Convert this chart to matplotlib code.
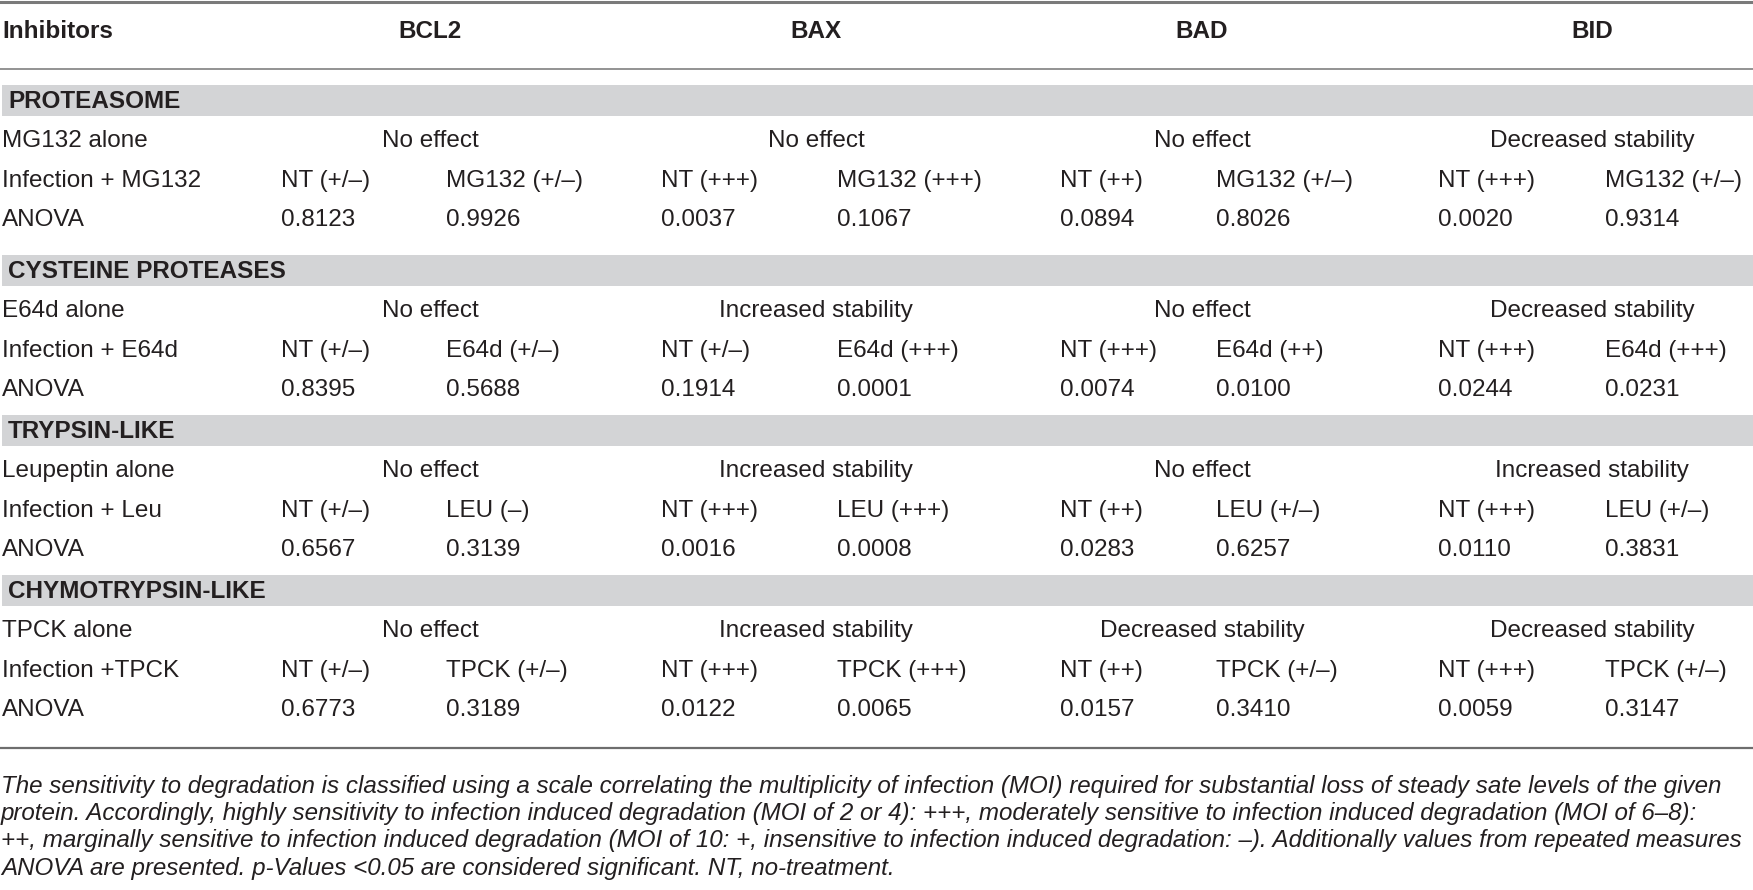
import matplotlib
matplotlib.use("Agg")
import matplotlib.pyplot as plt

plt.rcParams['font.family'] = ['Liberation Sans', 'DejaVu Sans']

# table content
proteins = ["BCL2", "BAX", "BAD", "BID"]
sections = ["PROTEASOME", "CYSTEINE PROTEASES", "TRYPSIN-LIKE", "CHYMOTRYPSIN-LIKE"]
alone_labels = ["MG132 alone", "E64d alone", "Leupeptin alone", "TPCK alone"]
infect_labels = ["Infection + MG132", "Infection + E64d", "Infection + Leu", "Infection +TPCK"]

effects = [
    ["No effect", "No effect", "No effect", "Decreased stability"],
    ["No effect", "Increased stability", "No effect", "Decreased stability"],
    ["No effect", "Increased stability", "No effect", "Increased stability"],
    ["No effect", "Increased stability", "Decreased stability", "Decreased stability"],
]
nt_calls = [
    ["NT (+/–)", "NT (+++)", "NT (++)", "NT (+++)"],
    ["NT (+/–)", "NT (+/–)", "NT (+++)", "NT (+++)"],
    ["NT (+/–)", "NT (+++)", "NT (++)", "NT (+++)"],
    ["NT (+/–)", "NT (+++)", "NT (++)", "NT (+++)"],
]
drug_calls = [
    ["MG132 (+/–)", "MG132 (+++)", "MG132 (+/–)", "MG132 (+/–)"],
    ["E64d (+/–)", "E64d (+++)", "E64d (++)", "E64d (+++)"],
    ["LEU (–)", "LEU (+++)", "LEU (+/–)", "LEU (+/–)"],
    ["TPCK (+/–)", "TPCK (+++)", "TPCK (+/–)", "TPCK (+/–)"],
]
anova_nt = [
    ["0.8123", "0.0037", "0.0894", "0.0020"],
    ["0.8395", "0.1914", "0.0074", "0.0244"],
    ["0.6567", "0.0016", "0.0283", "0.0110"],
    ["0.6773", "0.0122", "0.0157", "0.0059"],
]
anova_drug = [
    ["0.9926", "0.1067", "0.8026", "0.9314"],
    ["0.5688", "0.0001", "0.0100", "0.0231"],
    ["0.3139", "0.0008", "0.6257", "0.3831"],
    ["0.3189", "0.0065", "0.3410", "0.3147"],
]

footnote = [
    "The sensitivity to degradation is classified using a scale correlating the multiplicity of infection (MOI) required for substantial loss of steady sate levels of the given",
    "protein. Accordingly, highly sensitivity to infection induced degradation (MOI of 2 or 4): +++, moderately sensitive to infection induced degradation (MOI of 6–8):",
    "++, marginally sensitive to infection induced degradation (MOI of 10: +, insensitive to infection induced degradation: –). Additionally values from repeated measures",
    "ANOVA are presented. p-Values <0.05 are considered significant. NT, no-treatment.",
]

# layout (pixel space)
W, H = 1753, 890
col_center = [430, 816, 1202, 1592]
col_nt = [281, 661, 1060, 1438]
col_drug = [446, 837, 1216, 1605]
band_center = [100, 270, 430, 590]
row_step = 40
txt = "#231f20"
band_col = "#d3d4d6"
line_col = "#8a8a8a"
fs = 17.5

fig = plt.figure(figsize=(W / 100, H / 100), dpi=100)
ax = fig.add_axes([0, 0, 1, 1])
ax.set_xlim(0, W)
ax.set_ylim(H, 0)
ax.axis("off")

# rules
ax.axhline(1.5, color="#7a7a7a", lw=2.2)
ax.axhline(69, color=line_col, lw=1.3)
ax.axhline(748, color="#6e6e6e", lw=1.6)

# header
ax.text(2, 32, "Inhibitors", fontsize=fs, fontweight="bold", color=txt, va="center", ha="left")
for p, x in zip(proteins, col_center):
    ax.text(x, 32, p, fontsize=fs, fontweight="bold", color=txt, va="center", ha="center")

for i, sec in enumerate(sections):
    yc = band_center[i]
    ax.axhspan(yc - 15.5, yc + 15.5, xmin=0.001, xmax=1, color=band_col, lw=0)
    ax.text(8, yc + 1, sec, fontsize=fs, fontweight="bold", color=txt, va="center", ha="left")

    y1 = yc + 41
    y2 = y1 + row_step
    y3 = y2 + row_step - 1
    ax.text(2, y1, alone_labels[i], fontsize=fs, color=txt, va="center", ha="left")
    ax.text(2, y2, infect_labels[i], fontsize=fs, color=txt, va="center", ha="left")
    ax.text(2, y3, "ANOVA", fontsize=fs, color=txt, va="center", ha="left")
    for j in range(4):
        ax.text(col_center[j], y1, effects[i][j], fontsize=fs, color=txt, va="center", ha="center")
        ax.text(col_nt[j], y2, nt_calls[i][j], fontsize=fs, color=txt, va="center", ha="left")
        ax.text(col_drug[j], y2, drug_calls[i][j], fontsize=fs, color=txt, va="center", ha="left")
        ax.text(col_nt[j], y3, anova_nt[i][j], fontsize=fs, color=txt, va="center", ha="left")
        ax.text(col_drug[j], y3, anova_drug[i][j], fontsize=fs, color=txt, va="center", ha="left")

for k, line in enumerate(footnote):
    ax.text(1, 786 + 27.5 * k, line, fontsize=17.4, style="italic", color=txt, va="center", ha="left")

fig.savefig("out.png", dpi=100, facecolor="white")
